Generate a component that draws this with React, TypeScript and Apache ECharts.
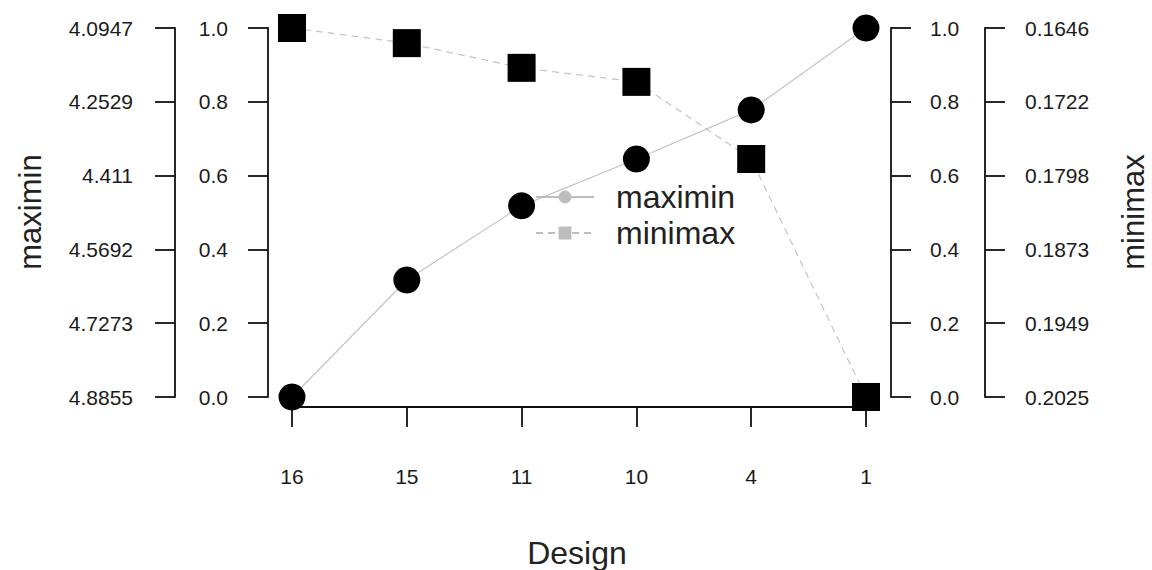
import React, { useEffect, useRef } from "react";
import * as echarts from "echarts";

const designs = ["16", "15", "11", "10", "4", "1"];
const maximinValues = [0.0, 0.317, 0.518, 0.645, 0.778, 1.0];
const minimaxValues = [1.0, 0.959, 0.892, 0.854, 0.645, 0.0];
const maximinTickLabels = ["4.8855", "4.7273", "4.5692", "4.411", "4.2529", "4.0947"];
const minimaxTickLabels = ["0.2025", "0.1949", "0.1873", "0.1798", "0.1722", "0.1646"];

const FONT = "'Liberation Sans', Arial, sans-serif";
const AXIS_COLOR = "#111";
const LINE_GRAY = "#c4c4c4";

function yAxisDef(position: "left" | "right", offset: number, labels: string[] | null, margin: number) {
  return {
    type: "value",
    position,
    offset,
    min: 0,
    max: 1,
    interval: 0.2,
    splitLine: { show: false },
    axisLine: { show: true, onZero: false, lineStyle: { color: AXIS_COLOR, width: 1.8 } },
    axisTick: { show: true, length: 20, lineStyle: { color: AXIS_COLOR, width: 1.8 } },
    axisLabel: {
      margin,
      fontFamily: FONT,
      fontSize: 21,
      color: "#1a1a1a",
      formatter: (v: number) => {
        const i = Math.round(v / 0.2);
        return labels ? labels[i] : v.toFixed(1);
      },
    },
  };
}

export default function App() {
  const ref = useRef<HTMLDivElement>(null);
  useEffect(() => {
    if (!ref.current) return;
    const chart = echarts.init(ref.current, null, { renderer: "svg" });
    chart.setOption({
      animation: false,
      backgroundColor: "#fff",
      grid: { left: 292, right: 286, top: 28, bottom: 173 },
      xAxis: {
        type: "category",
        data: designs,
        boundaryGap: false,
        offset: 10,
        axisLine: { show: true, onZero: false, lineStyle: { color: AXIS_COLOR, width: 1.8 } },
        axisTick: { show: true, length: 20, alignWithLabel: true, lineStyle: { color: AXIS_COLOR, width: 1.8 } },
        axisLabel: { margin: 59, fontFamily: FONT, fontSize: 21, color: "#1a1a1a" },
        splitLine: { show: false },
      },
      yAxis: [
        yAxisDef("left", 24, null, 40),
        yAxisDef("left", 117, maximinTickLabels, 42),
        yAxisDef("right", 25, null, 39),
        yAxisDef("right", 119, minimaxTickLabels, 40),
      ],
      legend: {
        orient: "vertical",
        left: 530,
        top: 176,
        itemWidth: 58,
        itemHeight: 16,
        itemGap: 4,
        textStyle: { fontFamily: FONT, fontSize: 32, color: "#222", padding: [0, 0, 0, 17] },
        data: [
          { name: "maximin", itemStyle: { color: "#bdbdbd" }, lineStyle: { color: "#bdbdbd" } },
          { name: "minimax", itemStyle: { color: "#bdbdbd" }, lineStyle: { color: "#bdbdbd" } },
        ],
      },
      series: [
        {
          name: "maximin",
          type: "line",
          yAxisIndex: 0,
          data: maximinValues,
          symbol: "circle",
          symbolSize: 27,
          lineStyle: { color: LINE_GRAY, width: 1.2, type: "solid" },
          itemStyle: { color: "#000" },
          z: 3,
        },
        {
          name: "minimax",
          type: "line",
          yAxisIndex: 0,
          data: minimaxValues,
          symbol: "rect",
          symbolSize: 28,
          lineStyle: { color: LINE_GRAY, width: 1.2, type: [7, 5] },
          itemStyle: { color: "#000" },
          z: 3,
        },
      ],
      graphic: [
        {
          type: "text",
          x: 30,
          y: 212,
          rotation: Math.PI / 2,
          style: { text: "maximin", fontFamily: FONT, fontSize: 31, fill: "#222", textAlign: "center", textVerticalAlign: "middle" },
        },
        {
          type: "text",
          x: 1133,
          y: 212,
          rotation: Math.PI / 2,
          style: { text: "minimax", fontFamily: FONT, fontSize: 31, fill: "#222", textAlign: "center", textVerticalAlign: "middle" },
        },
        {
          type: "text",
          x: 577,
          y: 553,
          style: { text: "Design", fontFamily: FONT, fontSize: 32, fill: "#222", textAlign: "center", textVerticalAlign: "middle" },
        },
      ],
    });
    return () => chart.dispose();
  }, []);
  return <div ref={ref} style={{ position: "fixed", left: 0, top: 0, width: 1152, height: 570 }} />;
}
